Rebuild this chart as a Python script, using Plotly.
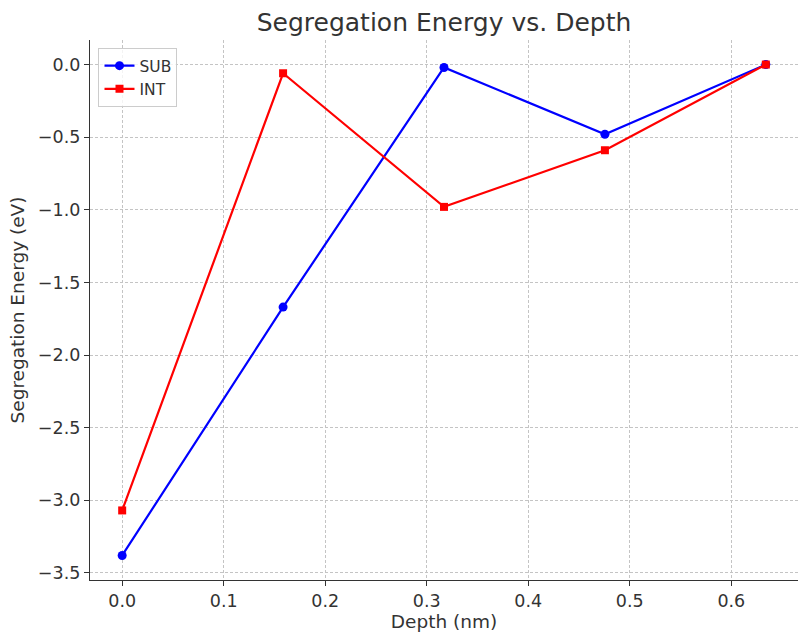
import plotly.graph_objects as go

# Depth positions (nm) and segregation energies (eV)
depth = [0.0, 0.1585, 0.317, 0.4755, 0.634]
sub_energy = [-3.38, -1.67, -0.02, -0.48, 0.0]
int_energy = [-3.07, -0.06, -0.98, -0.59, 0.0]

x_ticks = [0.0, 0.1, 0.2, 0.3, 0.4, 0.5, 0.6]
y_ticks = [0.0, -0.5, -1.0, -1.5, -2.0, -2.5, -3.0, -3.5]

font_family = "DejaVu Sans"
text_color = "#333333"

fig = go.Figure()
fig.add_trace(go.Scatter(
    x=depth, y=sub_energy, mode="lines+markers", name="SUB",
    line=dict(color="#0000ff", width=2.2),
    marker=dict(symbol="circle", size=9, color="#0000ff"),
))
fig.add_trace(go.Scatter(
    x=depth, y=int_energy, mode="lines+markers", name="INT",
    line=dict(color="#ff0000", width=2.2),
    marker=dict(symbol="square", size=8, color="#ff0000"),
))

axis_common = dict(
    showline=True, linecolor="#333333", linewidth=1.3, mirror=False,
    ticks="outside", ticklen=5, tickwidth=1.2, tickcolor="#333333",
    showgrid=True, gridcolor="#c4c4c4", griddash="3px,2px", gridwidth=1,
    zeroline=False,
    tickfont=dict(family=font_family, size=17.5, color=text_color),
)

fig.update_layout(
    width=798, height=632,
    margin=dict(l=90, r=0, t=40, b=52),
    paper_bgcolor="white", plot_bgcolor="white",
    title=dict(text="Segregation Energy vs. Depth", x=(90 + 798) / 2 / 798,
               xanchor="center", y=1 - 22 / 632, yanchor="middle",
               font=dict(family=font_family, size=25, color=text_color)),
    xaxis=dict(axis_common, range=[-0.0317, 0.6657], tickvals=x_ticks,
               ticktext=[f"{v:.1f}" for v in x_ticks],
               title=dict(text="Depth (nm)", standoff=2,
                          font=dict(family=font_family, size=18.5, color=text_color))),
    yaxis=dict(axis_common, range=[-3.549, 0.169], tickvals=y_ticks,
               ticktext=[f"{v:.1f}".replace("-", "\u2212") for v in y_ticks],
               title=dict(text="Segregation Energy (eV)", standoff=8,
                          font=dict(family=font_family, size=18.5, color=text_color))),
    legend=dict(x=0.012, y=0.985, xanchor="left", yanchor="top",
                bgcolor="rgba(255,255,255,0.8)", bordercolor="#cccccc", borderwidth=1,
                font=dict(family=font_family, size=15.5, color=text_color)),
    showlegend=True,
)

fig.write_html("out.html")
